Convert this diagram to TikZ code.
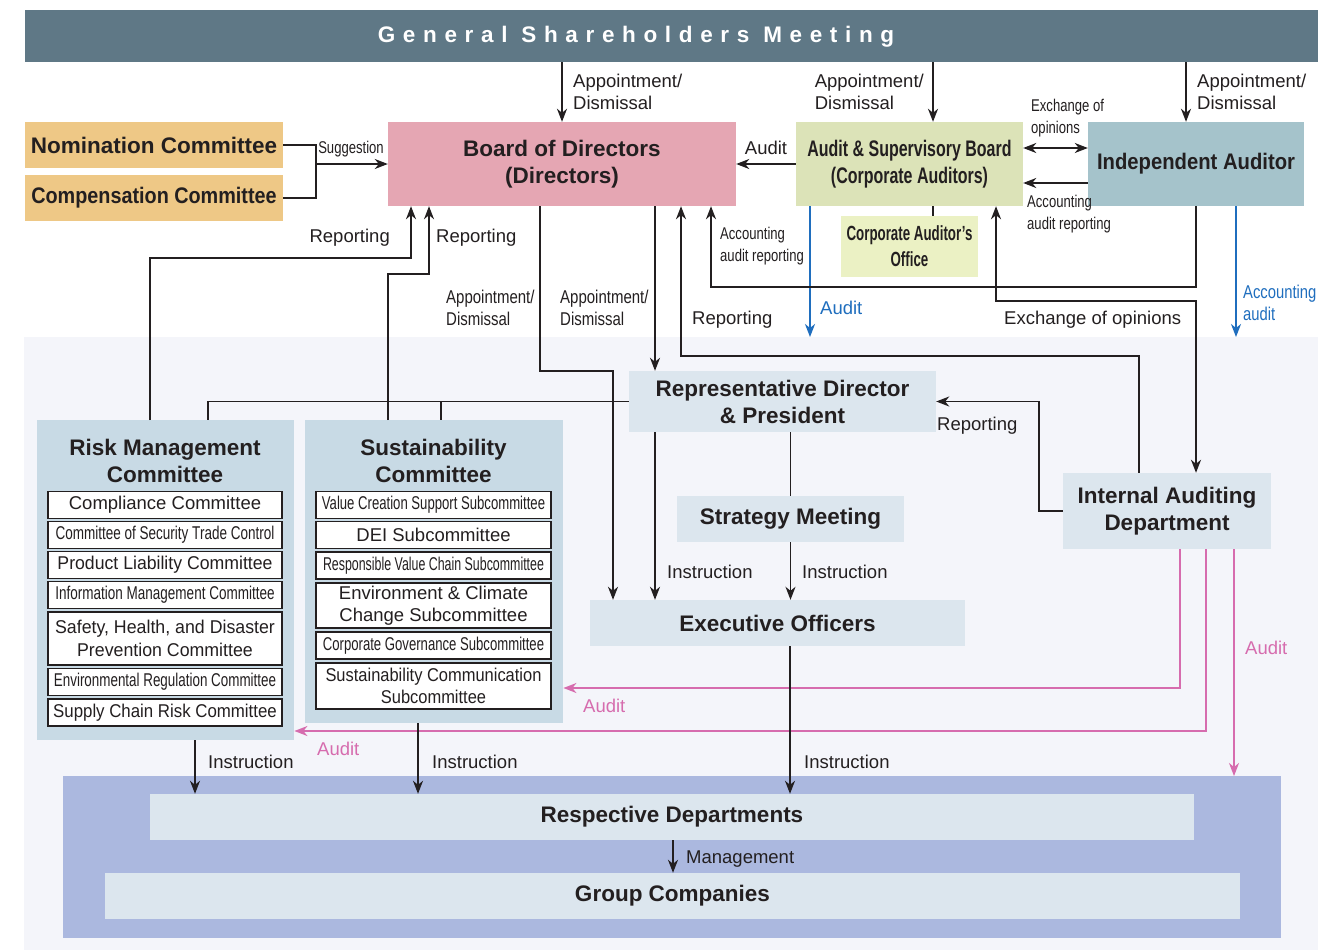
\documentclass[tikz,border=0pt]{standalone}
\usepackage{fontspec}
\setmainfont{Liberation Sans}
\newfontfamily\bannerfont[LetterSpace=34]{Liberation Sans}
\newfontfamily\condfont[FakeStretch=0.77]{Liberation Sans}
\usepackage{graphicx}
\usetikzlibrary{arrows.meta,positioning,calc}

\definecolor{ink}{HTML}{231F20}
\definecolor{gsmfill}{HTML}{5F7886}
\definecolor{tanfill}{HTML}{EEC886}
\definecolor{boardfill}{HTML}{E5A6B3}
\definecolor{asbfill}{HTML}{DCE3B8}
\definecolor{iafill}{HTML}{A5C3CB}
\definecolor{officefill}{HTML}{EBF1C4}
\definecolor{execfill}{HTML}{DCE6EE}
\definecolor{cmtfill}{HTML}{C8DAE5}
\definecolor{grpfill}{HTML}{ABB8DF}
\definecolor{bgfill}{HTML}{F4F5FA}
\definecolor{auditblue}{HTML}{1F6EBE}
\definecolor{auditpink}{HTML}{D66CAE}

\newcommand{\bigf}{\fontsize{22.5}{27}\selectfont\bfseries}
\newcommand{\lblf}{\fontsize{18.5}{22}\selectfont}
\newcommand{\subf}{\fontsize{18.5}{22.5}\selectfont}
\newcommand{\narrow}[2]{\scalebox{#1}[1]{#2}}

\begin{document}
\begin{tikzpicture}[x=1pt, y=-1pt,
  every node/.style={inner sep=0pt, text=ink},
  panel/.style={fill=#1, draw=none},
  box/.style={fill=#1, align=center, font=\bigf},
  sub/.style={draw=ink, line width=1.3pt, fill=white, minimum width=234, minimum height=27, align=center, font=\subf},
  lbl/.style={font=\lblf, align=left},
  smalllbl/.style={font=\condfont\fontsize{17}{22}\selectfont, align=left},
  conn/.style={draw=ink, line width=1.6pt},
  arrow/.style={conn, -{Stealth[length=13pt, width=10pt, inset=4pt]}},
  dblarrow/.style={conn, {Stealth[length=13pt, width=10pt, inset=4pt]}-{Stealth[length=13pt, width=10pt, inset=4pt]}},
  bluearrow/.style={arrow, draw=auditblue},
  pinkarrow/.style={arrow, draw=auditpink}
]
\useasboundingbox (0,0) rectangle (1335,950);
\fill[white] (0,0) rectangle (1335,950);

% Background panels
\node[panel=bgfill, minimum width=1294, minimum height=613, anchor=north west] (bg) at (24,337) {};
\node[panel=grpfill, minimum width=1218, minimum height=162, anchor=north west] (grp) at (63,776) {};
\node[panel=cmtfill, minimum width=257, minimum height=320, anchor=north west] (risk) at (37,420) {};
\node[panel=cmtfill, minimum width=258, minimum height=303, anchor=north west] (sust) at (305,420) {};

% Shareholders
\node[panel=gsmfill, minimum width=1293, minimum height=52] (gsm) at (671.5,36) {};
\node[font=\bannerfont\bigf, text=white] (gsmtext) at (636,37) {General Shareholders Meeting};

% Row 1: Board level
\node[box=tanfill, minimum width=258, minimum height=46] (nom) at (154,145) {Nomination Committee};
\node[box=tanfill, minimum width=258, minimum height=46] (comp) at (154,198) {\narrow{0.88}{Compensation Committee}};
\node[box=boardfill, minimum width=348, minimum height=84] (board) at (562,164) {Board of Directors\\(Directors)};
\node[box=asbfill, minimum width=227, minimum height=84] (asb) at (909.5,164) {\narrow{0.71}{Audit \& Supervisory Board}\\\narrow{0.71}{(Corporate Auditors)}};
\node[box=iafill, minimum width=216, minimum height=84] (ia) at (1196,164) {\narrow{0.9}{Independent Auditor}};
\node[box=officefill, minimum width=137, minimum height=61, font=\fontsize{20.5}{26}\selectfont\bfseries] (office) at (909.5,246.5) {\narrow{0.65}{Corporate Auditor's}\\\narrow{0.65}{Office}};

% Row 2: Execution
\node[box=execfill, minimum width=307, minimum height=61] (rep) at (782.5,401.5) {Representative Director\\\& President};
\node[box=execfill, minimum width=227, minimum height=46] (strat) at (790.5,519) {Strategy Meeting};
\node[box=execfill, minimum width=375, minimum height=46] (exec) at (777.5,623) {Executive Officers};
\node[box=execfill, minimum width=208, minimum height=76] (iad) at (1167,511) {Internal Auditing\\Department};

% Committees
\node[font=\bigf, align=center] (risktitle) at (165,460.5) {Risk Management\\Committee};
\node[sub, minimum height=27] (rm1) at (165,505) {Compliance Committee};
\node[sub, minimum height=27] (rm2) at (165,535) {\narrow{0.73}{Committee of Security Trade Control}};
\node[sub, minimum height=27] (rm3) at (165,565) {\narrow{0.955}{Product Liability Committee}};
\node[sub, minimum height=27] (rm4) at (165,595) {\narrow{0.73}{Information Management Committee}};
\node[sub, minimum height=53] (rm5) at (165,638.5) {\narrow{0.96}{Safety, Health, and Disaster}\\\narrow{0.96}{Prevention Committee}};
\node[sub, minimum height=27] (rm6) at (165,682) {\narrow{0.725}{Environmental Regulation Committee}};
\node[sub, minimum height=27] (rm7) at (165,712.5) {\narrow{0.91}{Supply Chain Risk Committee}};

\node[font=\bigf, align=center] (susttitle) at (433.5,460.5) {Sustainability\\Committee};
\node[sub, minimum width=235] (sc1) at (433.5,505) {\narrow{0.71}{Value Creation Support Subcommittee}};
\node[sub, minimum width=235] (sc2) at (433.5,535) {DEI Subcommittee};
\node[sub, minimum width=235] (sc3) at (433.5,565.5) {\narrow{0.67}{Responsible Value Chain Subcommittee}};
\node[sub, minimum width=235, minimum height=45] (sc4) at (433.5,605.5) {Environment \& Climate\\Change Subcommittee};
\node[sub, minimum width=235] (sc5) at (433.5,645.5) {\narrow{0.71}{Corporate Governance Subcommittee}};
\node[sub, minimum width=235, minimum height=46] (sc6) at (433.5,686) {\narrow{0.89}{Sustainability Communication}\\\narrow{0.89}{Subcommittee}};

% Bottom: departments and group
\node[box=execfill, minimum width=1044, minimum height=46] (dept) at (672,817) {Respective Departments};
\node[box=execfill, minimum width=1135, minimum height=46] (gc) at (672.5,896) {Group Companies};

% Arrows from shareholders
\draw[arrow] (gsm.south -| board.north) -- (board.north);
\draw[arrow] (gsm.south -| 933,0) -- (asb.north -| 933,0);
\draw[arrow] (gsm.south -| 1186,0) -- (ia.north -| 1186,0);
\node[lbl, anchor=west] (l1) at (573,92) {Appointment/\\Dismissal};
\node[lbl, anchor=east] (l2) at (924,92) {Appointment/\\Dismissal};
\node[lbl, anchor=west] (l3) at (1197,92) {Appointment/\\Dismissal};

% Suggestion
\coordinate (sugg) at (316,164);
\draw[conn] (nom.east) -| (sugg) |- (comp.east);
\draw[arrow] (sugg) -- (board.west);
\node[smalllbl] (l4) at (351,149) {Suggestion};

% Audit board links
\draw[arrow] (asb.west) -- (board.east);
\node[lbl] (l5) at (766,148) {Audit};
\draw[dblarrow] (asb.east |- 0,148) -- (ia.west |- 0,148);
\node[smalllbl, anchor=west] (l6) at (1031,118) {Exchange of\\opinions};
\draw[arrow] (ia.west |- 0,183) -- (asb.east |- 0,183);
\node[smalllbl, anchor=west] (l7) at (1027,214) {Accounting\\audit reporting};
\draw[conn] (asb.south -| 933,0) -- (office.north -| 933,0);

% Blue audit arrows
\draw[bluearrow] (asb.south -| 810,0) -- (bg.north -| 810,0);
\node[lbl, text=auditblue, anchor=west] (l8) at (820,308) {Audit};
\draw[bluearrow] (ia.south -| 1236,0) -- (bg.north -| 1236,0);
\node[lbl, text=auditblue, anchor=west] (l9) at (1243,303) {\narrow{0.8}{Accounting}\\\narrow{0.8}{audit}};

% Reporting to the board
\draw[arrow] (ia.south) |- (711,287) -- (board.south -| 711,0);
\node[smalllbl, anchor=west] (l10) at (720,246) {Accounting\\audit reporting};
\draw[dblarrow] (iad.north -| 1196,0) |- (996,301) -- (asb.south -| 996,0);
\node[lbl, anchor=west] (l11) at (1004,320) {Exchange of opinions};
\draw[arrow] (iad.north -| 1139,0) |- (681,356) -- (board.south -| 681,0);
\node[lbl, anchor=west] (l12) at (692,320) {Reporting};
\draw[arrow] (risk.north -| 150,0) |- (411,258) -- (board.south -| 411,0);
\node[lbl, anchor=east] (l13) at (390,238) {Reporting};
\draw[arrow] (sust.north -| 388,0) |- (429,274) -- (board.south -| 429,0);
\node[lbl, anchor=west] (l14) at (436,238) {Reporting};

% Board to execution
\draw[arrow] (board.south -| 540,0) |- (613,371) -- (exec.north -| 613,0);
\node[lbl, anchor=west] (l15) at (446,308) {\narrow{0.81}{Appointment/}\\\narrow{0.81}{Dismissal}};
\draw[arrow] (board.south -| 655,0) -- (rep.north -| 655,0);
\node[lbl, anchor=west] (l16) at (560,308) {\narrow{0.81}{Appointment/}\\\narrow{0.81}{Dismissal}};

% President
\draw[conn] (rep.west) -| (risk.north -| 208,0);
\draw[conn] (441,401.5) -- (sust.north -| 441,0);
\draw[arrow] (iad.west) -| (1039,401.5) -- (rep.east);
\node[lbl, anchor=west] (l17) at (937,426) {Reporting};
\draw[arrow] (rep.south -| 655,0) -- (exec.north -| 655,0);
\node[lbl, anchor=west] (l18) at (667,572) {Instruction};
\draw[conn] (rep.south -| strat.north) -- (strat.north);
\draw[arrow] (strat.south) -- (exec.north -| strat.south);
\node[lbl, anchor=west] (l19) at (802,572) {Instruction};

% Internal audit
\draw[pinkarrow] (iad.south -| 1180,0) |- (sust.east |- 0,688);
\node[lbl, text=auditpink, anchor=west] (l20) at (583,706) {Audit};
\draw[pinkarrow] (iad.south -| 1206,0) |- (risk.east |- 0,731);
\node[lbl, text=auditpink, anchor=west] (l21) at (317,749) {Audit};
\draw[pinkarrow] (iad.south -| 1234,0) -- (grp.north -| 1234,0);
\node[lbl, text=auditpink, anchor=west] (l22) at (1245,648) {Audit};

% Instructions to departments
\draw[arrow] (risk.south -| 195,0) -- (dept.north -| 195,0);
\node[lbl, anchor=west] (l23) at (208,762) {Instruction};
\draw[arrow] (sust.south -| 418,0) -- (dept.north -| 418,0);
\node[lbl, anchor=west] (l24) at (432,762) {Instruction};
\draw[arrow] (exec.south -| 790,0) -- (dept.north -| 790,0);
\node[lbl, anchor=west] (l25) at (804,762) {Instruction};
\draw[arrow] (dept.south -| 673,0) -- (gc.north -| 673,0);
\node[lbl, anchor=west] (l26) at (686,859) {Management};

\end{tikzpicture}
\end{document}
